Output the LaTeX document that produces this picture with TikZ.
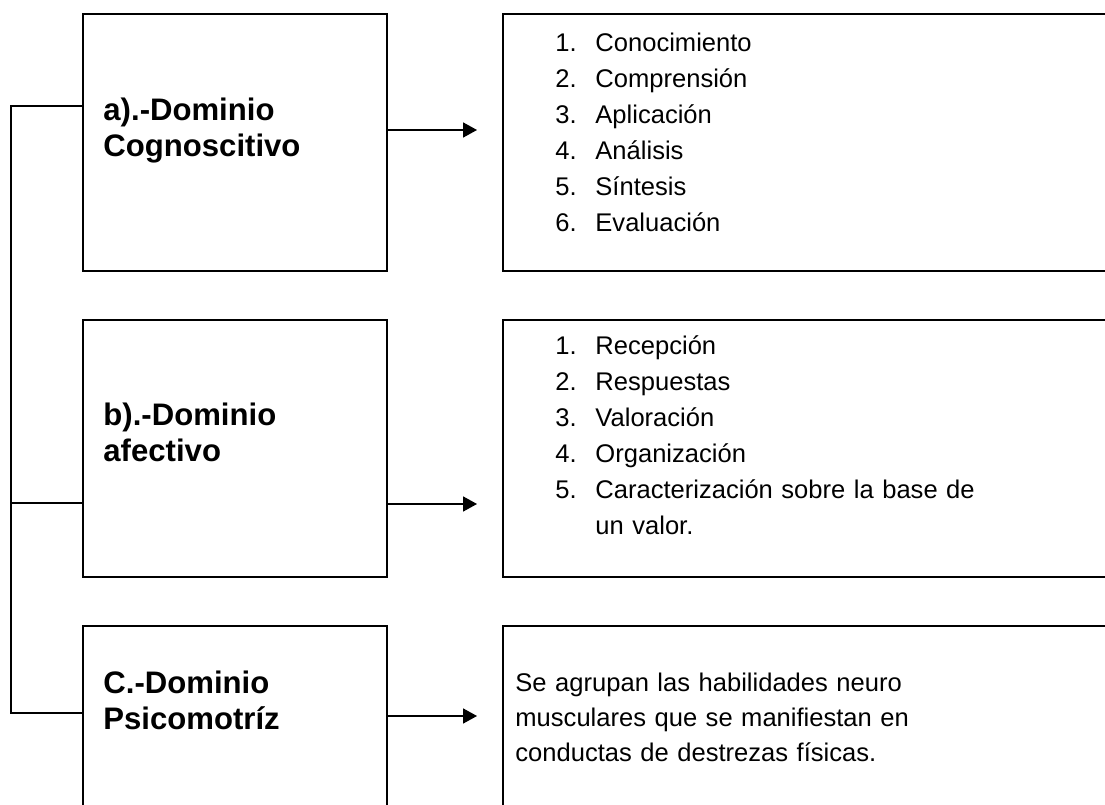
\documentclass[tikz,border=0pt]{standalone}
\usepackage{fontspec}
\setmainfont{Liberation Sans}
\usetikzlibrary{arrows.meta, positioning}

\begin{document}
\begin{tikzpicture}[x=0.45pt, y=-0.45pt, node distance=21.15pt and 51.3pt,
		dombox/.style={draw, line width=0.9pt, inner sep=0pt, minimum width=136.8pt, minimum height=115.65pt},
		resbox/.style={draw, line width=0.9pt, inner sep=0pt, minimum width=315pt, minimum height=115.65pt},
		domlabel/.style={anchor=base west, inner sep=0pt, text width=130pt, align=left,
			font=\fontsize{14}{16.2}\selectfont\bfseries},
		restext/.style={anchor=base west, inner sep=0pt, text width=250pt, align=left,
			font=\fontsize{11.5}{16.2}\selectfont},
		bracket/.style={draw, line width=0.6pt},
		every edge/.style={draw, -{Triangle[length=6.3pt, width=6.8pt]}, line width=0.6pt}]
		\useasboundingbox (0,0) rectangle (1105,805);
		\clip (0,0) rectangle (1105,805);
		% Boxes
		\node[dombox, anchor=north west] (la) at (82,13) {};
		\node[dombox] (lb) [below=of la] {};
		\node[dombox] (lc) [below=of lb] {};
		\node[resbox] (ra) [right=of la] {};
		\node[resbox] (rb) [right=of lb] {};
		\node[resbox] (rc) [right=of lc] {};
		% Texts
		\node[domlabel] (ta) at (103,121) {a).-Dominio\\Cognoscitivo};
		\node[domlabel] (tb) at (103,426) {b).-Dominio\\afectivo};
		\node[domlabel] (tc) at (103,694) {C.-Dominio\\Psicomotríz};
		\node[restext] (lista) at (555,52) {\begin{tabular}[t]{@{}p{18pt}@{}l@{}}
			1. & Conocimiento\\
			2. & Comprensión\\
			3. & Aplicación\\
			4. & Análisis\\
			5. & Síntesis\\
			6. & Evaluación
		\end{tabular}};
		\node[restext] (listb) at (555,355) {\begin{tabular}[t]{@{}p{18pt}@{}l@{}}
			1. & Recepción\\
			2. & Respuestas\\
			3. & Valoración\\
			4. & Organización\\
			5. & Caracterización sobre la base de\\
			   & un valor.
		\end{tabular}};
		\node[restext, font=\fontsize{11.5}{15.75}\selectfont] (textc) at (515,692)
			{Se agrupan las habilidades neuro\\musculares que se manifiestan en\\conductas de destrezas físicas.};
		% Bracket
		\coordinate (ka) at (11,106);
		\coordinate (kb) at (11,503);
		\coordinate (kc) at (11,713);
		\draw[bracket] (la.west |- ka) -- (ka) -- (kc) -- (lc.west |- kc);
		\draw[bracket] (kb) -- (lb.west |- kb);
		% Edges
		\coordinate (pa) at (477,130);
		\coordinate (pb) at (477,504);
		\coordinate (pc) at (477,716);
		\draw (la.east |- pa) edge (pa);
		\draw (lb.east |- pb) edge (pb);
		\draw (lc.east |- pc) edge (pc);
	\end{tikzpicture}
\end{document}
